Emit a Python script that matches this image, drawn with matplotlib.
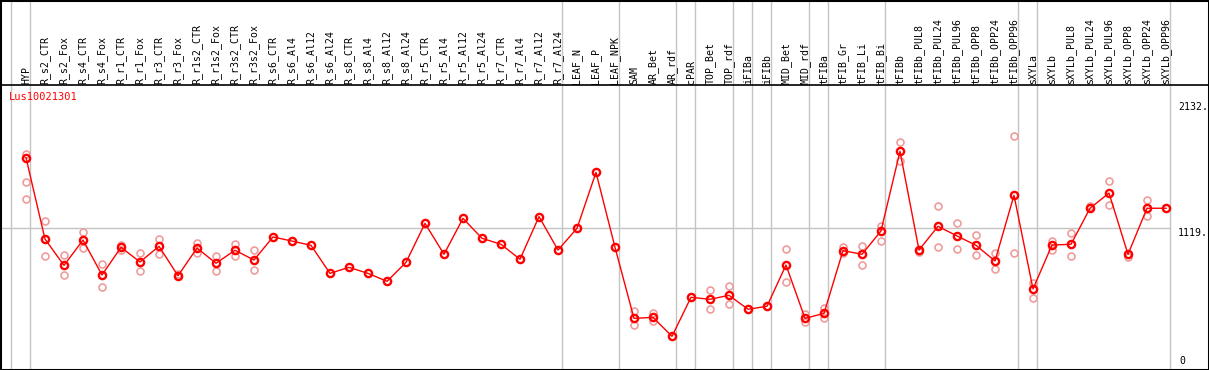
import matplotlib.pyplot as plt
import matplotlib.transforms as mtransforms
import numpy as np

# sample names (x axis)
samples = ['HYP', 'R_s2_CTR', 'R_s2_Fox', 'R_s4_CTR', 'R_s4_Fox', 'R_r1_CTR', 'R_r1_Fox',
           'R_r3_CTR', 'R_r3_Fox', 'R_r1s2_CTR', 'R_r1s2_Fox', 'R_r3s2_CTR', 'R_r3s2_Fox',
           'R_s6_CTR', 'R_s6_Al4', 'R_s6_Al12', 'R_s6_Al24', 'R_s8_CTR', 'R_s8_Al4',
           'R_s8_Al12', 'R_s8_Al24', 'R_r5_CTR', 'R_r5_Al4', 'R_r5_Al12', 'R_r5_Al24',
           'R_r7_CTR', 'R_r7_Al4', 'R_r7_Al12', 'R_r7_Al24', 'LEAF_N', 'LEAF_P', 'LEAF_NPK',
           'SAM', 'AR_Bet', 'AR_rdf', 'cPAR', 'TOP_Bet', 'TOP_rdf', 'iFIBa', 'iFIBb',
           'MID_Bet', 'MID_rdf', 'tFIBa', 'tFIB_Gr', 'tFIB_Li', 'tFIB_Bi', 'tFIBb',
           'tFIBb_PUL8', 'tFIBb_PUL24', 'tFIBb_PUL96', 'tFIBb_OPP8', 'tFIBb_OPP24',
           'tFIBb_OPP96', 'sXYLa', 'sXYLb', 'sXYLb_PUL8', 'sXYLb_PUL24', 'sXYLb_PUL96',
           'sXYLb_OPP8', 'sXYLb_OPP24', 'sXYLb_OPP96']

# mean expression per sample
means = [1686, 1034, 823, 1026, 746, 968, 850, 976, 740, 962, 840, 944, 866,
         1051, 1018, 984, 759, 807, 759, 695, 847, 1160, 912, 1200, 1040,
         992, 872, 1214, 946, 1120, 1569, 968,
         398, 406, 254, 567, 551, 583, 471, 495, 826, 398, 438, 941, 912, 1099, 1738,
         946, 1136, 1059, 984, 858, 1385,
         634, 986, 992, 1281, 1403, 912, 1281, 1281]

# individual replicates per sample
replicates = [[1719, 1492, 1355], [1179, 898], [906, 746], [1091, 960], [832, 647],
              [986, 946], [920, 775], [1034, 912], [754], [1002, 920], [898, 780],
              [992, 898], [944, 783],
              [], [], [], [], [], [], [], [], [], [], [], [], [], [], [], [],
              [], [], [],
              [457, 342], [438, 374], [258], [572], [623, 476], [658, 511], [475], [500],
              [952, 687], [430, 369], [479, 401], [970, 920], [981, 823], [1139, 1021],
              [1810, 1658],
              [930], [1297, 968], [1163, 952], [1064, 906], [920, 791], [1858, 920],
              [679, 559], [1021, 949], [1080, 898], [1302], [1500, 1305], [893],
              [1347, 1221], [1285]]

# groups end after these samples (vertical separators)
group_ends = ['HYP', 'R_r7_Al24', 'LEAF_NPK', 'AR_rdf', 'cPAR', 'TOP_rdf', 'iFIBa', 'iFIBb',
              'MID_rdf', 'tFIBa', 'tFIB_Bi', 'tFIBb_OPP96', 'sXYLa', 'sXYLb_OPP96']

y_ticks = [0, 1119, 2132]
gene = 'Lus10021301'

W, H = 1209, 370
x0, dx = 26, 19          # pixel position of first sample, spacing
y0, sy = 368, 0.1247     # pixel row of value 0, pixels per unit

fig = plt.figure(figsize=(W / 100, H / 100), dpi=100)
ax = fig.add_axes([0, 0, 1, 1])
ax.set_xlim(-x0 / dx, (W - x0) / dx)
ax.set_ylim(-(H - y0) / sy, y0 / sy)
ax.set_xticks([])
ax.set_yticks([])
for s in ax.spines.values():
    s.set_linewidth(2.2)
    s.set_color('black')

font = dict(family='DejaVu Sans Mono', fontsize=7.1)
trans = mtransforms.blended_transform_factory(ax.transData, ax.transAxes)
x = np.arange(len(samples))

# grid
ax.axvline(-0.8, color='#c4c4c4', lw=1, zorder=0)
for g in group_ends:
    ax.axvline(samples.index(g) + 0.23, color='#c4c4c4', lw=1, zorder=0)
ax.plot([-2, len(samples) - 0.78], [y_ticks[1]] * 2, color='#c4c4c4', lw=1, zorder=0)

# header separator
ax.axhline(ax.get_ylim()[1] * (1 - 85 / H) + ax.get_ylim()[0] * 85 / H, color='black', lw=1.2)

# sample labels
for i, name in enumerate(samples):
    ax.text(i, 1 - 84 / H, name, rotation=90, ha='center', va='bottom',
            transform=trans, **font)

# replicates
for i, reps in enumerate(replicates):
    if reps:
        ax.plot([i] * len(reps), reps, 'o', ms=5, mfc='none', mec='#ee9c9c', mew=1.2, zorder=2)

# mean line
ax.plot(x, means, '-', color='red', lw=1, zorder=3)
ax.plot(x, means, 'o', ms=5.2, mfc='none', mec='red', mew=1.7, zorder=4)

# y labels
x_lab = (1178 - x0) / dx
for v in y_ticks[1:]:
    ax.text(x_lab, v, f'{v}.', ha='left', va='top', **font)
ax.text(x_lab + 0.05, y_ticks[0] + 20, str(y_ticks[0]), ha='left', va='bottom', **font)

ax.text((9 - x0) / dx, 1 - 97 / H, gene, color='red', ha='left', va='center',
        transform=trans, family='DejaVu Sans Mono', fontsize=7.5)

plt.savefig('out.png', dpi=100)
